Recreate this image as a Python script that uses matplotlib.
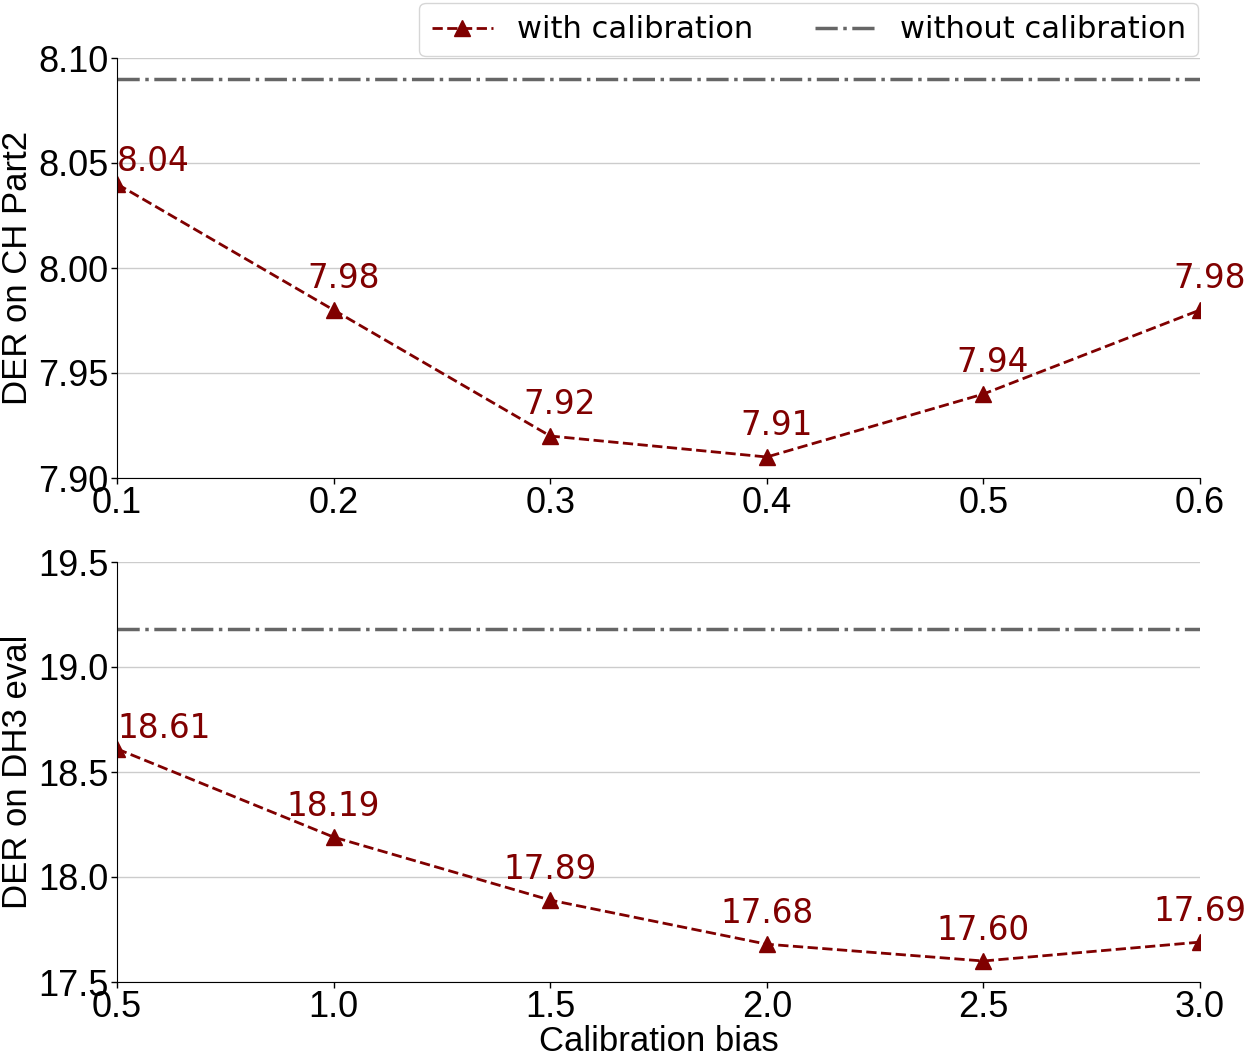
import matplotlib
matplotlib.use("Agg")
import matplotlib.pyplot as plt

top_x = [0.1, 0.2, 0.3, 0.4, 0.5, 0.6]
top_y = [8.04, 7.98, 7.92, 7.91, 7.94, 7.98]
top_base = 8.09
bot_x = [0.5, 1.0, 1.5, 2.0, 2.5, 3.0]
bot_y = [18.61, 18.19, 17.89, 17.68, 17.60, 17.69]
bot_base = 19.18

top_yticks = [7.90, 7.95, 8.00, 8.05, 8.10]
bot_yticks = [17.5, 18.0, 18.5, 19.0, 19.5]

RED = "#800000"
GRAY = "#666666"
TICKFONT = "Liberation Sans"

fig = plt.figure(figsize=(12.45, 10.58), dpi=100)
ax1 = fig.add_axes([117/1245, 1-478/1058, (1200-117)/1245, 420/1058])
ax2 = fig.add_axes([117/1245, 1-982/1058, (1200-117)/1245, 420/1058])

def style(ax, xs, yticks, fmt, ylabel):
    ax.set_xlim(xs[0], xs[-1])
    ax.set_ylim(yticks[0], yticks[-1])
    ax.set_xticks(xs)
    ax.set_xticklabels([f"{v:.1f}" for v in xs], fontsize=26, family=TICKFONT)
    ax.set_yticks(yticks)
    ax.set_yticklabels([fmt.format(v) for v in yticks], fontsize=26, family=TICKFONT)
    ax.tick_params(direction="out", length=4, width=1, pad=2)
    ax.grid(axis="y", color="#cccccc", linewidth=1)
    ax.set_axisbelow(True)
    for s in ("top", "right"):
        ax.spines[s].set_visible(False)
    ax.set_ylabel(ylabel, fontsize=25, family=TICKFONT, labelpad=3)

def draw(ax, xs, ys, base, first_off, off, dx):
    ax.plot(xs, ys, linestyle="--", color=RED, marker="^", markersize=11,
            linewidth=2, label="with calibration")
    ax.axhline(base, color=GRAY, linestyle="-.", linewidth=2.5, label="without calibration")
    for i, (x, y) in enumerate(zip(xs, ys)):
        if i == 0:
            ax.annotate(f"{y:.2f}", (x, y), xytext=(0, first_off), textcoords="offset points",
                        ha="left", va="bottom", color=RED, fontsize=23.5, family="DejaVu Sans")
        else:
            ax.annotate(f"{y:.2f}", (x, y), xytext=(dx, off), textcoords="offset points",
                        ha="center", va="bottom", color=RED, fontsize=23.5, family="DejaVu Sans")

draw(ax1, top_x, top_y, top_base, 4.5, 10.5, 7)
draw(ax2, bot_x, bot_y, bot_base, 3, 10, 0)
style(ax1, top_x, top_yticks, "{:.2f}", "DER on CH Part2")
style(ax2, bot_x, bot_yticks, "{:.1f}", "DER on DH3 eval")
ax2.set_xlabel("Calibration bias", fontsize=25, family=TICKFONT, labelpad=0)

ax1.legend(loc="lower right", bbox_to_anchor=(1.0, 1.0), ncol=2, fontsize=22,
           frameon=True, borderaxespad=0.05, columnspacing=2.0, handlelength=2.0)

fig.savefig("out.png", dpi=100)
